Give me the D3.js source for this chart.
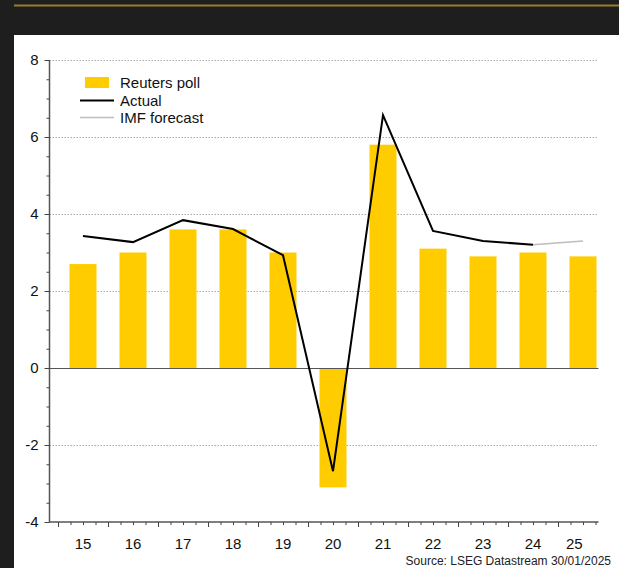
<!DOCTYPE html>
<html>
<head>
<meta charset="utf-8">
<script src="https://cdn.jsdelivr.net/npm/d3@7"></script>
<style>
  html, body { margin: 0; padding: 0; background: #1e1e1e; }
  svg { display: block; }
  text { font-family: "Liberation Sans", Arial, sans-serif; }
</style>
</head>
<body>
<svg id="chart" width="619" height="568"></svg>
<script>
// ---- Data ----
const years = [2015, 2016, 2017, 2018, 2019, 2020, 2021, 2022, 2023, 2024, 2025];
const yearLabels = ["15", "16", "17", "18", "19", "20", "21", "22", "23", "24", "25"];
const reutersPoll = [2.7, 3.0, 3.6, 3.6, 3.0, -3.1, 5.8, 3.1, 2.9, 3.0, 2.9];
const actualYears = [2015, 2016, 2017, 2018, 2019, 2020, 2021, 2022, 2023, 2024];
const actual = [3.43, 3.27, 3.84, 3.61, 2.93, -2.68, 6.57, 3.56, 3.30, 3.20];
const imfYears = [2024, 2025];
const imfForecast = [3.20, 3.30];
const yTicks = [-4, -2, 0, 2, 4, 6, 8];
const legendLabels = ["Reuters poll", "Actual", "IMF forecast"];
const sourceText = "Source: LSEG Datastream 30/01/2025";

// ---- Layout ----
const svg = d3.select("#chart");
const plotLeft = 49.5, plotRight = 598.5, plotTop = 60, plotBottom = 522;

svg.append("rect").attr("x", 0).attr("y", 0).attr("width", 619).attr("height", 568).attr("fill", "#1e1e1e");
svg.append("line").attr("x1", 14).attr("x2", 619).attr("y1", 5.5).attr("y2", 5.5)
  .attr("stroke", "#9a7b30").attr("stroke-width", 2);
svg.append("rect").attr("x", 14).attr("y", 35).attr("width", 605).attr("height", 533).attr("fill", "#ffffff");

const x = d3.scaleLinear().domain([2015, 2016]).range([58, 108]);
const y = d3.scaleLinear().domain([-4, 8]).range([plotBottom, plotTop]);

// gridlines
svg.append("g").selectAll("line").data(yTicks.filter(d => d !== 0 && d !== -4)).join("line")
  .attr("x1", plotLeft).attr("x2", plotRight)
  .attr("y1", d => Math.round(y(d)) + 0.5).attr("y2", d => Math.round(y(d)) + 0.5)
  .attr("stroke", "#aaaaaa").attr("stroke-width", 1).attr("stroke-dasharray", "1.5,1.5");

// bars
const barW = 27;
svg.append("g").selectAll("rect").data(years).join("rect")
  .attr("x", (d) => x(d + 0.5) - barW / 2)
  .attr("width", barW)
  .attr("y", (d, i) => y(Math.max(0, reutersPoll[i])))
  .attr("height", (d, i) => Math.abs(y(reutersPoll[i]) - y(0)))
  .attr("fill", "#ffcc00");

// zero line
svg.append("line").attr("x1", plotLeft).attr("x2", plotRight)
  .attr("y1", Math.round(y(0)) + 0.5).attr("y2", Math.round(y(0)) + 0.5)
  .attr("stroke", "#555555").attr("stroke-width", 1);

// lines
const line = d3.line().x(d => x(d[0] + 0.5)).y(d => y(d[1]));
svg.append("path").datum(imfYears.map((d, i) => [d, imfForecast[i]]))
  .attr("d", line).attr("fill", "none").attr("stroke", "#bdbdbd").attr("stroke-width", 1.5);
svg.append("path").datum(actualYears.map((d, i) => [d, actual[i]]))
  .attr("d", line).attr("fill", "none").attr("stroke", "#000000").attr("stroke-width", 2).attr("stroke-linejoin", "miter");

// Y axis
const yMinor = d3.range(-4, 8.01, 0.5);
const yAxis = d3.axisLeft(y).tickValues(yMinor).tickSize(3).tickFormat("");
const gy = svg.append("g").attr("transform", `translate(${plotLeft},0)`).call(yAxis);
gy.selectAll("line").attr("stroke", "#444");
gy.select(".domain").attr("stroke", "#555").attr("stroke-width", 1.5).attr("d", `M0,${plotTop}V${plotBottom}`);
const yMajor = d3.axisLeft(y).tickValues(yTicks).tickSize(5).tickPadding(6).tickFormat(d => d < 0 ? "-" + Math.abs(d) : d);
const gy2 = svg.append("g").attr("transform", `translate(${plotLeft},0)`).call(yMajor);
gy2.select(".domain").remove();
gy2.selectAll("line").attr("stroke", "#444");
gy2.selectAll("text").attr("font-size", 15).attr("fill", "#111").attr("font-family", "Liberation Sans, Arial, sans-serif");

// X axis
const quarters = d3.range(2015, 2025.8, 0.25);
const xMinor = d3.axisBottom(x).tickValues(quarters.filter(d => d % 1 !== 0)).tickSize(3).tickFormat("");
const gx = svg.append("g").attr("transform", `translate(0,${plotBottom})`).call(xMinor);
gx.select(".domain").attr("d", `M${plotLeft},0H${plotRight}`).attr("stroke", "#555").attr("stroke-width", 1.5);
gx.selectAll("line").attr("stroke", "#444");
const xMajor = d3.axisBottom(x).tickValues(years).tickSize(5).tickFormat("");
const gx2 = svg.append("g").attr("transform", `translate(0,${plotBottom})`).call(xMajor);
gx2.select(".domain").remove();
gx2.selectAll("line").attr("stroke", "#444");

// X labels
svg.append("g").selectAll("text").data(years).join("text")
  .attr("x", (d, i) => i === years.length - 1 ? (x(d) + plotRight) / 2 - 4 : x(d + 0.5))
  .attr("y", plotBottom + 27)
  .attr("text-anchor", "middle")
  .attr("font-size", 15).attr("fill", "#111")
  .text((d, i) => yearLabels[i]);

// Legend
const lg = svg.append("g");
lg.append("rect").attr("x", 85).attr("y", 77).attr("width", 24).attr("height", 11).attr("fill", "#ffcc00");
lg.append("line").attr("x1", 80).attr("x2", 114).attr("y1", 100.5).attr("y2", 100.5).attr("stroke", "#000").attr("stroke-width", 2);
lg.append("line").attr("x1", 80).attr("x2", 114).attr("y1", 117.5).attr("y2", 117.5).attr("stroke", "#bdbdbd").attr("stroke-width", 1.5);
lg.selectAll("text").data(legendLabels).join("text")
  .attr("x", 120).attr("y", (d, i) => 83 + i * 17.5)
  .attr("dy", "0.35em")
  .attr("font-size", 15).attr("fill", "#111")
  .text(d => d);

// Source
svg.append("text").attr("x", 611).attr("y", 565).attr("text-anchor", "end")
  .attr("font-size", 12).attr("fill", "#222").text(sourceText);
</script>
</body>
</html>
